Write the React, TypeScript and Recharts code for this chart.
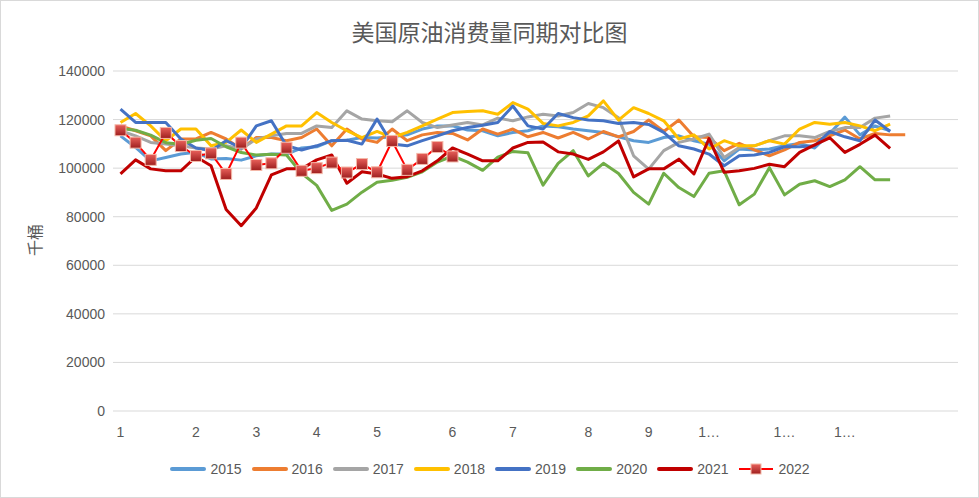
import React from 'react';
import { LineChart, Line, XAxis, YAxis, CartesianGrid, Legend } from 'recharts';

// 56 weekly slots on the category axis, month labels on the first week of each month
const weeks = Array.from({ length: 56 }, (_, i) => i + 1);
const monthTicks = [1, 6, 10, 14, 18, 23, 27, 32, 36, 40, 45, 49];
const monthLabels = ['1', '2', '3', '4', '5', '6', '7', '8', '9', '1…', '1…', '1…'];
const yTicks = [0, 20000, 40000, 60000, 80000, 100000, 120000, 140000];

const v2015 = [113300, 108500, 103000, 104400, 105800, 106500, 103800, 104000, 103300, 105100, 105800, 105800, 108300, 108800, 111300, 111500, 112600, 112400, 112900, 113700, 116100, 117400, 117400, 115700, 115400, 113300, 114700, 115400, 117400, 117000, 116100, 115400, 114700, 112900, 111300, 110600, 112600, 113300, 111300, 109900, 103000, 107900, 107500, 107900, 109200, 110200, 108300, 114300, 121000, 113700, 117400, 115400];
const v2016 = [117400, 115400, 113300, 107200, 112000, 112000, 114700, 112000, 107900, 112600, 112600, 111300, 112600, 116100, 109200, 116100, 112000, 110600, 116100, 111300, 113700, 114700, 114300, 111600, 116100, 114000, 116100, 112900, 114700, 112400, 114700, 112000, 115100, 112900, 115100, 119800, 115100, 119800, 112900, 112600, 107200, 110200, 107500, 105100, 107500, 110600, 111300, 113300, 115700, 112000, 114300, 113700, 113700];
const v2017 = [115400, 113300, 110600, 109900, 109200, 108300, 107900, 109200, 107900, 112000, 113300, 114300, 114300, 117400, 116700, 123600, 120200, 119500, 119100, 123600, 118800, 116700, 117800, 118800, 117800, 120600, 119500, 121100, 122200, 121500, 122900, 126600, 124900, 120800, 105100, 99600, 107200, 110600, 112000, 114000, 104400, 108500, 109200, 111300, 113300, 113300, 112600, 115100, 116700, 116700, 120600, 121500];
const v2018 = [118800, 122500, 117400, 111300, 116100, 116100, 109200, 110600, 115700, 110600, 114000, 117400, 117400, 122900, 118800, 115400, 112600, 115100, 112600, 114700, 117400, 120200, 122900, 123300, 123600, 122200, 127000, 124300, 118400, 117400, 118800, 121500, 127700, 119800, 124900, 122500, 119500, 112000, 113700, 107900, 111300, 109200, 109200, 111300, 109900, 116100, 118800, 118100, 118800, 117400, 115400, 118100];
const v2019 = [124300, 118800, 118800, 118800, 112000, 108300, 107200, 111300, 108300, 117400, 119500, 109200, 107500, 109200, 111300, 111500, 109900, 120200, 109900, 109200, 111300, 113300, 115400, 116700, 117700, 118800, 125600, 117400, 116100, 122500, 120800, 119800, 119500, 118400, 118800, 118000, 114700, 109200, 107900, 105800, 101000, 105100, 105400, 106500, 108800, 108800, 109200, 115100, 112900, 111300, 119800, 115100];
const v2020 = [116300, 115600, 113600, 110500, 109800, 111500, 112200, 108800, 106400, 105400, 105700, 105400, 97900, 92900, 82600, 85200, 90100, 94200, 95000, 96200, 98500, 102500, 105000, 102500, 99100, 104500, 106900, 106300, 93000, 102000, 107200, 96800, 102000, 97800, 90000, 85200, 97900, 92000, 88300, 97900, 98900, 84900, 89300, 100200, 89000, 93400, 94800, 92400, 95200, 100600, 95200, 95200];
const v2021 = [97600, 103400, 99700, 98900, 98900, 104700, 101000, 83000, 76300, 83600, 97200, 99700, 99700, 103400, 105400, 93800, 98500, 97600, 95800, 96500, 98900, 103000, 108300, 105800, 103000, 103000, 108300, 110600, 110800, 106700, 105800, 103600, 106700, 111200, 96400, 99700, 99700, 103700, 97600, 112200, 98300, 98900, 99900, 101600, 100600, 106500, 109600, 112500, 106500, 109800, 113600, 108100];
const v2022 = [115600, 110500, 103400, 114500, 109100, 105000, 106100, 97600, 110500, 101300, 102000, 108400, 98900, 100000, 102300, 98200, 101700, 98300, 111200, 99300, 103800, 108700, 104800];

const series = [
  { key: 'y2015', name: '2015', color: '#5B9BD5', values: v2015 },
  { key: 'y2016', name: '2016', color: '#ED7D31', values: v2016 },
  { key: 'y2017', name: '2017', color: '#A5A5A5', values: v2017 },
  { key: 'y2018', name: '2018', color: '#FFC000', values: v2018 },
  { key: 'y2019', name: '2019', color: '#4472C4', values: v2019 },
  { key: 'y2020', name: '2020', color: '#70AD47', values: v2020 },
  { key: 'y2021', name: '2021', color: '#C00000', values: v2021 },
];

const data = weeks.map((w, i) => {
  const row: Record<string, number | undefined> = { week: w, y2022: v2022[i] };
  series.forEach((s) => { row[s.key] = s.values[i]; });
  return row;
});

const textFont = '"Liberation Sans", Arial, sans-serif';
const grey = '#595959';

const SquareDot = (props: any) => {
  const { cx, cy, index } = props;
  if (cx == null || cy == null) return <g key={`d-${index}`} />;
  return (
    <rect key={`d-${index}`} x={cx - 5.5} y={cy - 5.5} width={11} height={11}
      fill="url(#sqFill)" stroke="#F4B8A8" strokeWidth={1} />
  );
};

const renderLegend = () => (
  <div style={{ display: 'flex', justifyContent: 'center', alignItems: 'center', height: 20, gap: 9, fontFamily: textFont, fontSize: 14, color: grey }}>
    {series.map((s) => (
      <div key={s.key} style={{ display: 'flex', alignItems: 'center' }}>
        <svg width={38} height={10}>
          <line x1={3} y1={5} x2={35} y2={5} stroke={s.color} strokeWidth={4} strokeLinecap="round" />
        </svg>
        <span style={{ marginLeft: 3 }}>{s.name}</span>
      </div>
    ))}
    <div style={{ display: 'flex', alignItems: 'center' }}>
      <svg width={38} height={14}>
        <line x1={2} y1={7} x2={36} y2={7} stroke="#FF0000" strokeWidth={2} />
        <rect x={14} y={2} width={10} height={10} fill="url(#sqFill)" stroke="#F4B8A8" strokeWidth={1} />
      </svg>
      <span style={{ marginLeft: 3 }}>2022</span>
    </div>
  </div>
);

export default function App() {
  return (
    <div style={{ position: 'absolute', left: 0, top: 0, width: 979, height: 498, boxSizing: 'border-box', border: '1px solid #D9D9D9', background: '#fff' }}>
      <svg width={0} height={0} style={{ position: 'absolute' }}>
        <defs>
          <linearGradient id="sqFill" x1="0" y1="0" x2="0" y2="1">
            <stop offset="0%" stopColor="#E8605A" />
            <stop offset="100%" stopColor="#9E1F1F" />
          </linearGradient>
        </defs>
      </svg>
      <div style={{ position: 'absolute', top: 14, left: 0, width: 977, textAlign: 'center', fontFamily: '"Noto Sans CJK SC", sans-serif', fontSize: 23, color: grey, lineHeight: '32px' }}>
        美国原油消费量同期对比图
      </div>
      <div style={{ position: 'absolute', left: 33, top: 239, transform: 'translate(-50%, -50%) rotate(-90deg)', fontFamily: '"Noto Sans CJK SC", sans-serif', fontSize: 16, color: grey, whiteSpace: 'nowrap' }}>
        千桶
      </div>
      <div style={{ position: 'absolute', left: -1, top: -1 }}>
        <LineChart width={979} height={498} data={data} margin={{ top: 71, right: 21, left: 0, bottom: 19 }}>
          <CartesianGrid vertical={false} stroke="#D9D9D9" strokeWidth={1} />
          <XAxis dataKey="week" type="category" height={48} ticks={monthTicks} interval={0}
            padding={{ left: 7.5, right: 7.5 }}
            tickFormatter={(w: number) => monthLabels[monthTicks.indexOf(w)] ?? ''}
            axisLine={false} tickLine={false} tickMargin={10}
            tick={{ fill: grey, fontSize: 14, fontFamily: textFont }} />
          <YAxis type="number" domain={[0, 140000]} ticks={yTicks} interval={0} width={113}
            axisLine={false} tickLine={false}
            tick={{ fill: grey, fontSize: 14, fontFamily: textFont }} />
          {series.map((s) => (
            <Line key={s.key} dataKey={s.key} name={s.name} stroke={s.color} strokeWidth={3}
              dot={false} activeDot={false} isAnimationActive={false} strokeLinejoin="round" />
          ))}
          <Line dataKey="y2022" name="2022" stroke="#FF0000" strokeWidth={2}
            dot={SquareDot} activeDot={false} isAnimationActive={false} />
          <Legend verticalAlign="bottom" content={renderLegend} wrapperStyle={{ left: 0, width: 979, bottom: 19 }} />
        </LineChart>
      </div>
    </div>
  );
}
